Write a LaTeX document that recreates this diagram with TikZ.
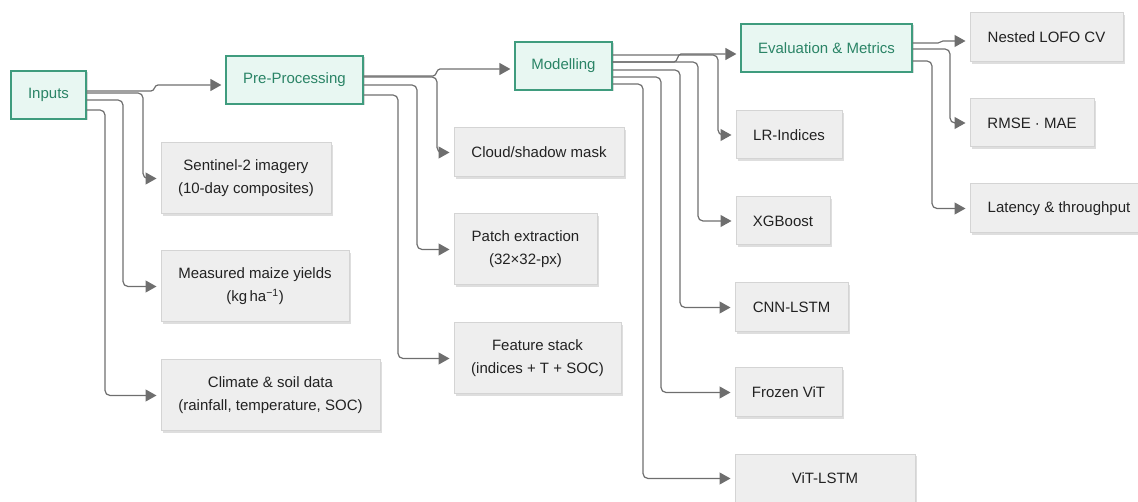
\documentclass[tikz,border=0pt]{standalone}
\usepackage{fontspec}
\setmainfont{Liberation Sans}
\usetikzlibrary{arrows.meta,shadows,calc}
\definecolor{gfill}{HTML}{E8F7F2}
\definecolor{gline}{HTML}{3F9C7E}
\definecolor{gtext}{HTML}{2A8466}
\definecolor{bfill}{HTML}{EEEEEE}
\definecolor{bline}{HTML}{D4D4D4}
\definecolor{conncol}{HTML}{6E6E6E}
\definecolor{txt}{HTML}{222222}
\begin{document}
\begin{tikzpicture}[x=1pt,y=-1pt,
  every node/.style={font=\fontsize{15}{23}\selectfont, align=center, inner sep=0pt},
  gbox/.style={draw=gline, line width=1.2pt, fill=gfill, text=gtext,
    drop shadow={shadow xshift=1.5pt, shadow yshift=-1.5pt, fill=black, opacity=0.15}},
  bbox/.style={draw=bline, line width=1pt, fill=bfill, text=txt,
    drop shadow={shadow xshift=2pt, shadow yshift=-2pt, fill=black, opacity=0.13}},
  conn/.style={draw=conncol, line width=1.2pt, rounded corners=5pt,
    -{Triangle[length=11pt,width=12pt]}, shorten >=4pt},
  jog/.style={conn, rounded corners=0pt}
]
\useasboundingbox (0,0) rectangle (1138,502);
% green stage nodes
\node[gbox, minimum width=75pt, minimum height=48pt] (inputs) at (48.5,95) {Inputs};
\node[gbox, minimum width=137pt, minimum height=48pt] (pre) at (294.5,80) {Pre-Processing};
\node[gbox, minimum width=97pt, minimum height=48pt] (model) at (563.5,66) {Modelling};
\node[gbox, minimum width=171pt, minimum height=48pt] (eval) at (826.5,48) {Evaluation \& Metrics};
% inputs children
\node[bbox, minimum width=170pt, minimum height=71pt] (sentinel) at (246,178.5) {Sentinel-2 imagery\\(10-day composites)};
\node[bbox, minimum width=188pt, minimum height=71pt] (maize) at (255,286.5) {Measured maize yields\\(kg\,ha\textsuperscript{\char"2212 1})};
\node[bbox, minimum width=219pt, minimum height=71pt] (climate) at (270.5,395.5) {Climate \& soil data\\(rainfall, temperature, SOC)};
% pre-processing children
\node[bbox, minimum width=170pt, minimum height=49pt] (cloud) at (539,152.5) {Cloud/shadow mask};
\node[bbox, minimum width=143pt, minimum height=71pt] (patch) at (525.5,249.5) {Patch extraction\\(32×32-px)};
\node[bbox, minimum width=167pt, minimum height=71pt] (feature) at (537.5,358.5) {Feature stack\\(indices + T + SOC)};
% modelling children
\node[bbox, minimum width=106pt, minimum height=48pt] (lr) at (789,135) {LR-Indices};
\node[bbox, minimum width=94pt, minimum height=48pt] (xgb) at (783,221) {XGBoost};
\node[bbox, minimum width=113pt, minimum height=49pt] (cnn) at (791.5,307.5) {CNN-LSTM};
\node[bbox, minimum width=107pt, minimum height=49pt] (frozen) at (788.5,392.5) {Frozen ViT};
\node[bbox, minimum width=180pt, minimum height=49pt] (vitlstm) at (825,478.5) {ViT-LSTM};
% evaluation children
\node[bbox, minimum width=153pt, minimum height=49pt] (nested) at (1046.5,37.5) {Nested LOFO CV};
\node[bbox, minimum width=124pt, minimum height=48pt] (rmse) at (1032,123) {RMSE · MAE};
\node[bbox, minimum width=178pt, minimum height=49pt] (latency) at (1059,208.5) {Latency \& throughput};
% connectors from Inputs
\draw[jog] (inputs.east |- 0,91) -- (151,91) .. controls (155,91) and (154,85) .. (158,85) -- (pre.west |- 0,85);
\draw[conn] (inputs.east |- 0,93) -- (143,93) |- (sentinel.west);
\draw[conn] (inputs.east |- 0,100) -- (123,100) |- (maize.west);
\draw[conn] (inputs.east |- 0,110) -- (105,110) |- (climate.west);
% connectors from Pre-Processing
\draw[jog] (pre.east |- 0,76) -- (433,76) .. controls (437,76) and (436,69) .. (440,69) -- (model.west |- 0,69);
\draw[conn] (pre.east |- 0,77) -- (437,77) |- (cloud.west);
\draw[conn] (pre.east |- 0,85) -- (417,85) |- (patch.west);
\draw[conn] (pre.east |- 0,95) -- (398,95) |- (feature.west);
% connectors from Modelling
\draw[jog] (model.east |- 0,62) -- (674,62) .. controls (678,62) and (677,54) .. (681,54) -- (eval.west |- 0,54);
\draw[conn] (model.east |- 0,55) -- (718,55) |- (lr.west);
\draw[conn] (model.east |- 0,62) -- (698,62) |- (xgb.west);
\draw[conn] (model.east |- 0,70) -- (680,70) |- (cnn.west);
\draw[conn] (model.east |- 0,77) -- (661,77) |- (frozen.west);
\draw[conn] (model.east |- 0,84) -- (643,84) |- (vitlstm.west);
% connectors from Evaluation
\draw[jog] (eval.east |- 0,43) -- (938,43) .. controls (941,43) and (940,41) .. (943,41) -- (nested.west |- 0,41);
\draw[conn] (eval.east |- 0,49) -- (950,49) |- (rmse.west);
\draw[conn] (eval.east |- 0,61) -- (932,61) |- (latency.west);
\end{tikzpicture}
\end{document}
